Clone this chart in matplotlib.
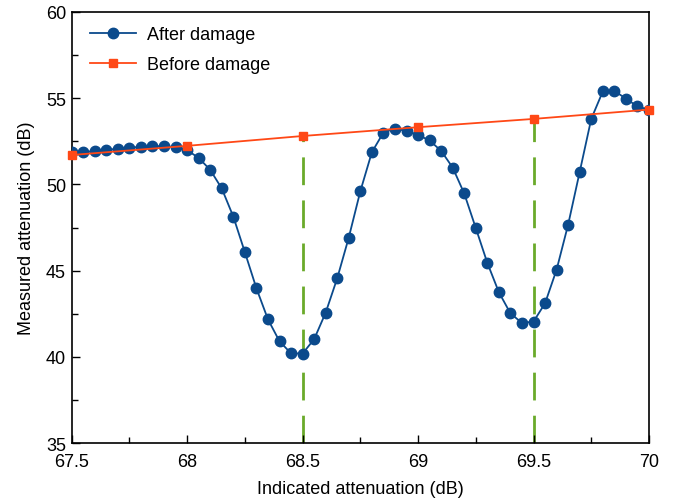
import matplotlib
matplotlib.use("Agg")
import matplotlib.pyplot as plt
from matplotlib.ticker import MultipleLocator

plt.rcParams['font.family'] = ['Liberation Sans', 'DejaVu Sans']

after_x = [67.5, 67.55, 67.6, 67.65, 67.7, 67.75, 67.8, 67.85, 67.9, 67.95,
           68.0, 68.05, 68.1, 68.15, 68.2, 68.25, 68.3, 68.35, 68.4, 68.45,
           68.5, 68.55, 68.6, 68.65, 68.7, 68.75, 68.8, 68.85, 68.9, 68.95,
           69.0, 69.05, 69.1, 69.15, 69.2, 69.25, 69.3, 69.35, 69.4, 69.45,
           69.5, 69.55, 69.6, 69.65, 69.7, 69.75, 69.8, 69.85, 69.9, 69.95, 70.0]
after_y = [51.86, 51.86, 51.94, 51.99, 52.07, 52.13, 52.17, 52.21, 52.21, 52.15,
           51.98, 51.53, 50.84, 49.76, 48.13, 46.07, 43.98, 42.18, 40.91, 40.21,
           40.20, 41.03, 42.57, 44.56, 46.92, 49.60, 51.86, 53.00, 53.23, 53.09,
           52.86, 52.54, 51.94, 50.97, 49.47, 47.47, 45.45, 43.75, 42.53, 41.97,
           42.05, 43.11, 45.06, 47.67, 50.72, 53.79, 55.38, 55.41, 54.97, 54.51, 54.33]

before_x = [67.5, 68.0, 68.5, 69.0, 69.5, 70.0]
before_y = [51.70, 52.23, 52.80, 53.31, 53.79, 54.33]

mark_x = [68.5, 69.5]
x_ticks = [67.5, 68, 68.5, 69, 69.5, 70]
x_tick_labels = ['67.5', '68', '68.5', '69', '69.5', '70']

blue = '#0b4a8c'
red = '#ff4816'
green = '#6aaa2a'

fig = plt.figure(figsize=(6.73, 5.02), dpi=100)
ax = fig.add_axes([0.1065, 0.1149, 0.8578, 0.8598])

# green dashed markers up to before-damage value
for mx in mark_x:
    my = before_y[before_x.index(mx)]
    ax.plot([mx, mx], [35, my], color=green, lw=2, dashes=(10, 5.5), zorder=1)

ax.plot(after_x, after_y, '-o', color=blue, lw=1.3, ms=7.5, label='After damage', zorder=3)
ax.plot(before_x, before_y, '-s', color=red, lw=1.3, ms=6.3, label='Before damage', zorder=4, clip_on=False)

ax.set_xlim(67.5, 70)
ax.set_ylim(35, 60)
ax.xaxis.set_minor_locator(MultipleLocator(0.25))
ax.yaxis.set_major_locator(MultipleLocator(5))
ax.yaxis.set_minor_locator(MultipleLocator(2.5))
ax.set_xticks(x_ticks)
ax.set_xticklabels(x_tick_labels)
ax.tick_params(which='both', direction='in', top=False, right=False, labelsize=13, width=1)
ax.tick_params(which='major', length=6)
ax.tick_params(which='minor', length=4)
ax.tick_params(axis='x', pad=7)
ax.tick_params(axis='y', pad=4)
for s in ax.spines.values():
    s.set_linewidth(1.2)

ax.set_xlabel('Indicated attenuation (dB)', fontsize=13, labelpad=7)
ax.set_ylabel('Measured attenuation (dB)', fontsize=13, labelpad=8)

ax.legend(loc='upper left', bbox_to_anchor=(0.009, 0.995), frameon=False, fontsize=13,
          handlelength=2.6, borderaxespad=0.3, labelspacing=0.7, handletextpad=0.6)

fig.savefig('out.png', dpi=100)
